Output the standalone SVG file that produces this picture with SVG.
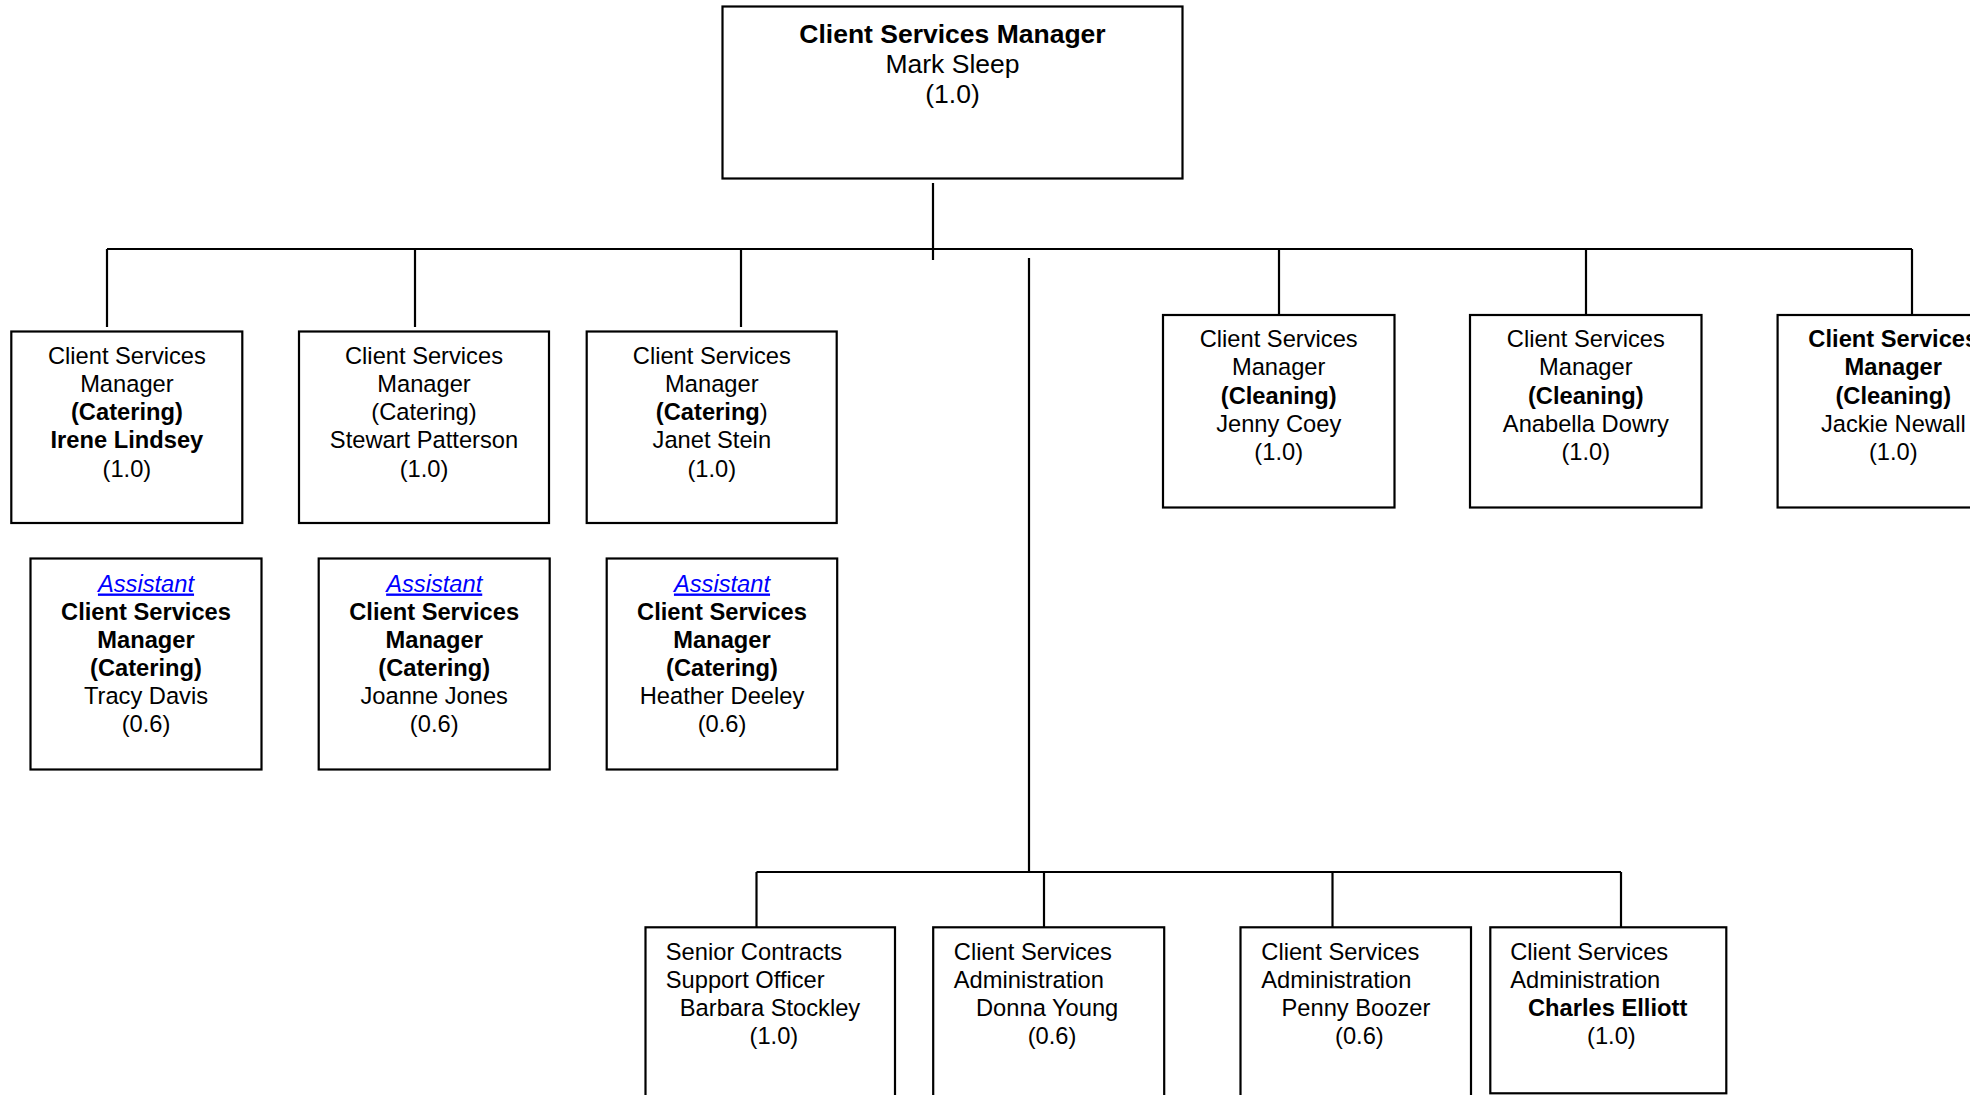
<svg xmlns="http://www.w3.org/2000/svg" width="1970" height="1095" viewBox="0 0 1970 1095">
<style>
text{font-family:"Liberation Sans",Arial,sans-serif;font-size:23.7px;fill:#000}
.c{text-anchor:middle}
.b{font-weight:bold}
.top{font-size:26.5px}
.as{fill:#0000ff;font-style:italic;text-decoration:underline}
rect{fill:#fff;stroke:#000;stroke-width:2.2}
#connectors line{stroke:#000;stroke-width:2.2}
</style>
<rect x="0" y="0" width="1970" height="1095" style="stroke:none"/>
<g id="connectors">
<line x1="933" y1="183" x2="933" y2="260"/>
<line x1="107" y1="249" x2="1912" y2="249"/>
<line x1="107" y1="249" x2="107" y2="327"/>
<line x1="415" y1="249" x2="415" y2="327"/>
<line x1="741" y1="249" x2="741" y2="327"/>
<line x1="1279" y1="249" x2="1279" y2="315"/>
<line x1="1586" y1="249" x2="1586" y2="315"/>
<line x1="1912" y1="249" x2="1912" y2="315"/>
<line x1="1029" y1="258" x2="1029" y2="872"/>
<line x1="756.5" y1="872" x2="1621" y2="872"/>
<line x1="756.5" y1="872" x2="756.5" y2="929"/>
<line x1="1044" y1="872" x2="1044" y2="929"/>
<line x1="1332.5" y1="872" x2="1332.5" y2="927"/>
<line x1="1621" y1="872" x2="1621" y2="927"/>
</g>
<g id="root">
<rect x="722.5" y="6.5" width="460" height="172"/>
<text class="c b top" x="952.5" y="42.7">Client Services Manager</text>
<text class="c top" x="952.5" y="73">Mark Sleep</text>
<text class="c top" x="952.5" y="103">(1.0)</text>
</g>
<g id="irene">
<rect x="11.3" y="331.5" width="231" height="191.5"/>
<text class="c" x="126.9" y="364">Client Services</text>
<text class="c" x="126.9" y="392">Manager</text>
<text class="c b" x="126.9" y="420">(Catering)</text>
<text class="c b" x="126.9" y="448.3">Irene Lindsey</text>
<text class="c" x="126.9" y="476.8">(1.0)</text>
</g>
<g id="stewart">
<rect x="299" y="331.5" width="250" height="191.5"/>
<text class="c" x="424" y="364">Client Services</text>
<text class="c" x="424" y="392">Manager</text>
<text class="c" x="424" y="420">(Catering)</text>
<text class="c" x="424" y="448.3">Stewart Patterson</text>
<text class="c" x="424" y="476.8">(1.0)</text>
</g>
<g id="janet">
<rect x="586.7" y="331.5" width="250" height="191.5"/>
<text class="c" x="711.8" y="364">Client Services</text>
<text class="c" x="711.8" y="392">Manager</text>
<text class="c" x="711.8" y="420"><tspan class="b">(Catering</tspan>)</text>
<text class="c" x="711.8" y="448.3">Janet Stein</text>
<text class="c" x="711.8" y="476.8">(1.0)</text>
</g>
<g id="tracy">
<rect x="30.5" y="558.5" width="231" height="211"/>
<text class="c as" x="146" y="591.5">Assistant</text>
<text class="c b" x="146" y="619.5">Client Services</text>
<text class="c b" x="146" y="647.8">Manager</text>
<text class="c b" x="146" y="676">(Catering)</text>
<text class="c" x="146" y="704">Tracy Davis</text>
<text class="c" x="146" y="732">(0.6)</text>
</g>
<g id="joanne">
<rect x="318.7" y="558.5" width="231" height="211"/>
<text class="c as" x="434.2" y="591.5">Assistant</text>
<text class="c b" x="434.2" y="619.5">Client Services</text>
<text class="c b" x="434.2" y="647.8">Manager</text>
<text class="c b" x="434.2" y="676">(Catering)</text>
<text class="c" x="434.2" y="704">Joanne Jones</text>
<text class="c" x="434.2" y="732">(0.6)</text>
</g>
<g id="heather">
<rect x="606.7" y="558.5" width="230.5" height="211"/>
<text class="c as" x="722" y="591.5">Assistant</text>
<text class="c b" x="722" y="619.5">Client Services</text>
<text class="c b" x="722" y="647.8">Manager</text>
<text class="c b" x="722" y="676">(Catering)</text>
<text class="c" x="722" y="704">Heather Deeley</text>
<text class="c" x="722" y="732">(0.6)</text>
</g>
<g id="jenny">
<rect x="1163" y="315" width="231.5" height="192.5"/>
<text class="c" x="1278.7" y="347.3">Client Services</text>
<text class="c" x="1278.7" y="375.3">Manager</text>
<text class="c b" x="1278.7" y="403.5">(Cleaning)</text>
<text class="c" x="1278.7" y="431.7">Jenny Coey</text>
<text class="c" x="1278.7" y="460">(1.0)</text>
</g>
<g id="anabella">
<rect x="1470" y="315" width="231.5" height="192.5"/>
<text class="c" x="1585.8" y="347.3">Client Services</text>
<text class="c" x="1585.8" y="375.3">Manager</text>
<text class="c b" x="1585.8" y="403.5">(Cleaning)</text>
<text class="c" x="1585.8" y="431.7">Anabella Dowry</text>
<text class="c" x="1585.8" y="460">(1.0)</text>
</g>
<g id="jackie">
<rect x="1777.6" y="315" width="231.5" height="192.5"/>
<text class="c b" x="1893.3" y="347.3">Client Services</text>
<text class="c b" x="1893.3" y="375.3">Manager</text>
<text class="c b" x="1893.3" y="403.5">(Cleaning)</text>
<text class="c" x="1893.3" y="431.7">Jackie Newall</text>
<text class="c" x="1893.3" y="460">(1.0)</text>
</g>
<g id="barbara">
<rect x="645.5" y="927.3" width="249.5" height="200"/>
<text x="665.8" y="960">Senior Contracts</text>
<text x="665.8" y="987.6">Support Officer</text>
<text x="679.8" y="1015.7">Barbara Stockley</text>
<text x="749.5" y="1043.5">(1.0)</text>
</g>
<g id="donna">
<rect x="933.2" y="927.3" width="231" height="200"/>
<text x="953.8" y="960">Client Services</text>
<text x="953.8" y="987.6">Administration</text>
<text x="976" y="1015.7">Donna Young</text>
<text x="1027.7" y="1043.5">(0.6)</text>
</g>
<g id="penny">
<rect x="1240.5" y="927.3" width="230.5" height="200"/>
<text x="1261.3" y="960">Client Services</text>
<text x="1261.3" y="987.6">Administration</text>
<text x="1281.5" y="1015.7">Penny Boozer</text>
<text x="1335" y="1043.5">(0.6)</text>
</g>
<g id="charles">
<rect x="1490.3" y="927.3" width="236" height="166"/>
<text x="1510.2" y="960">Client Services</text>
<text x="1510.2" y="987.6">Administration</text>
<text class="b" x="1528" y="1015.7">Charles Elliott</text>
<text x="1587" y="1043.5">(1.0)</text>
</g>
</svg>
